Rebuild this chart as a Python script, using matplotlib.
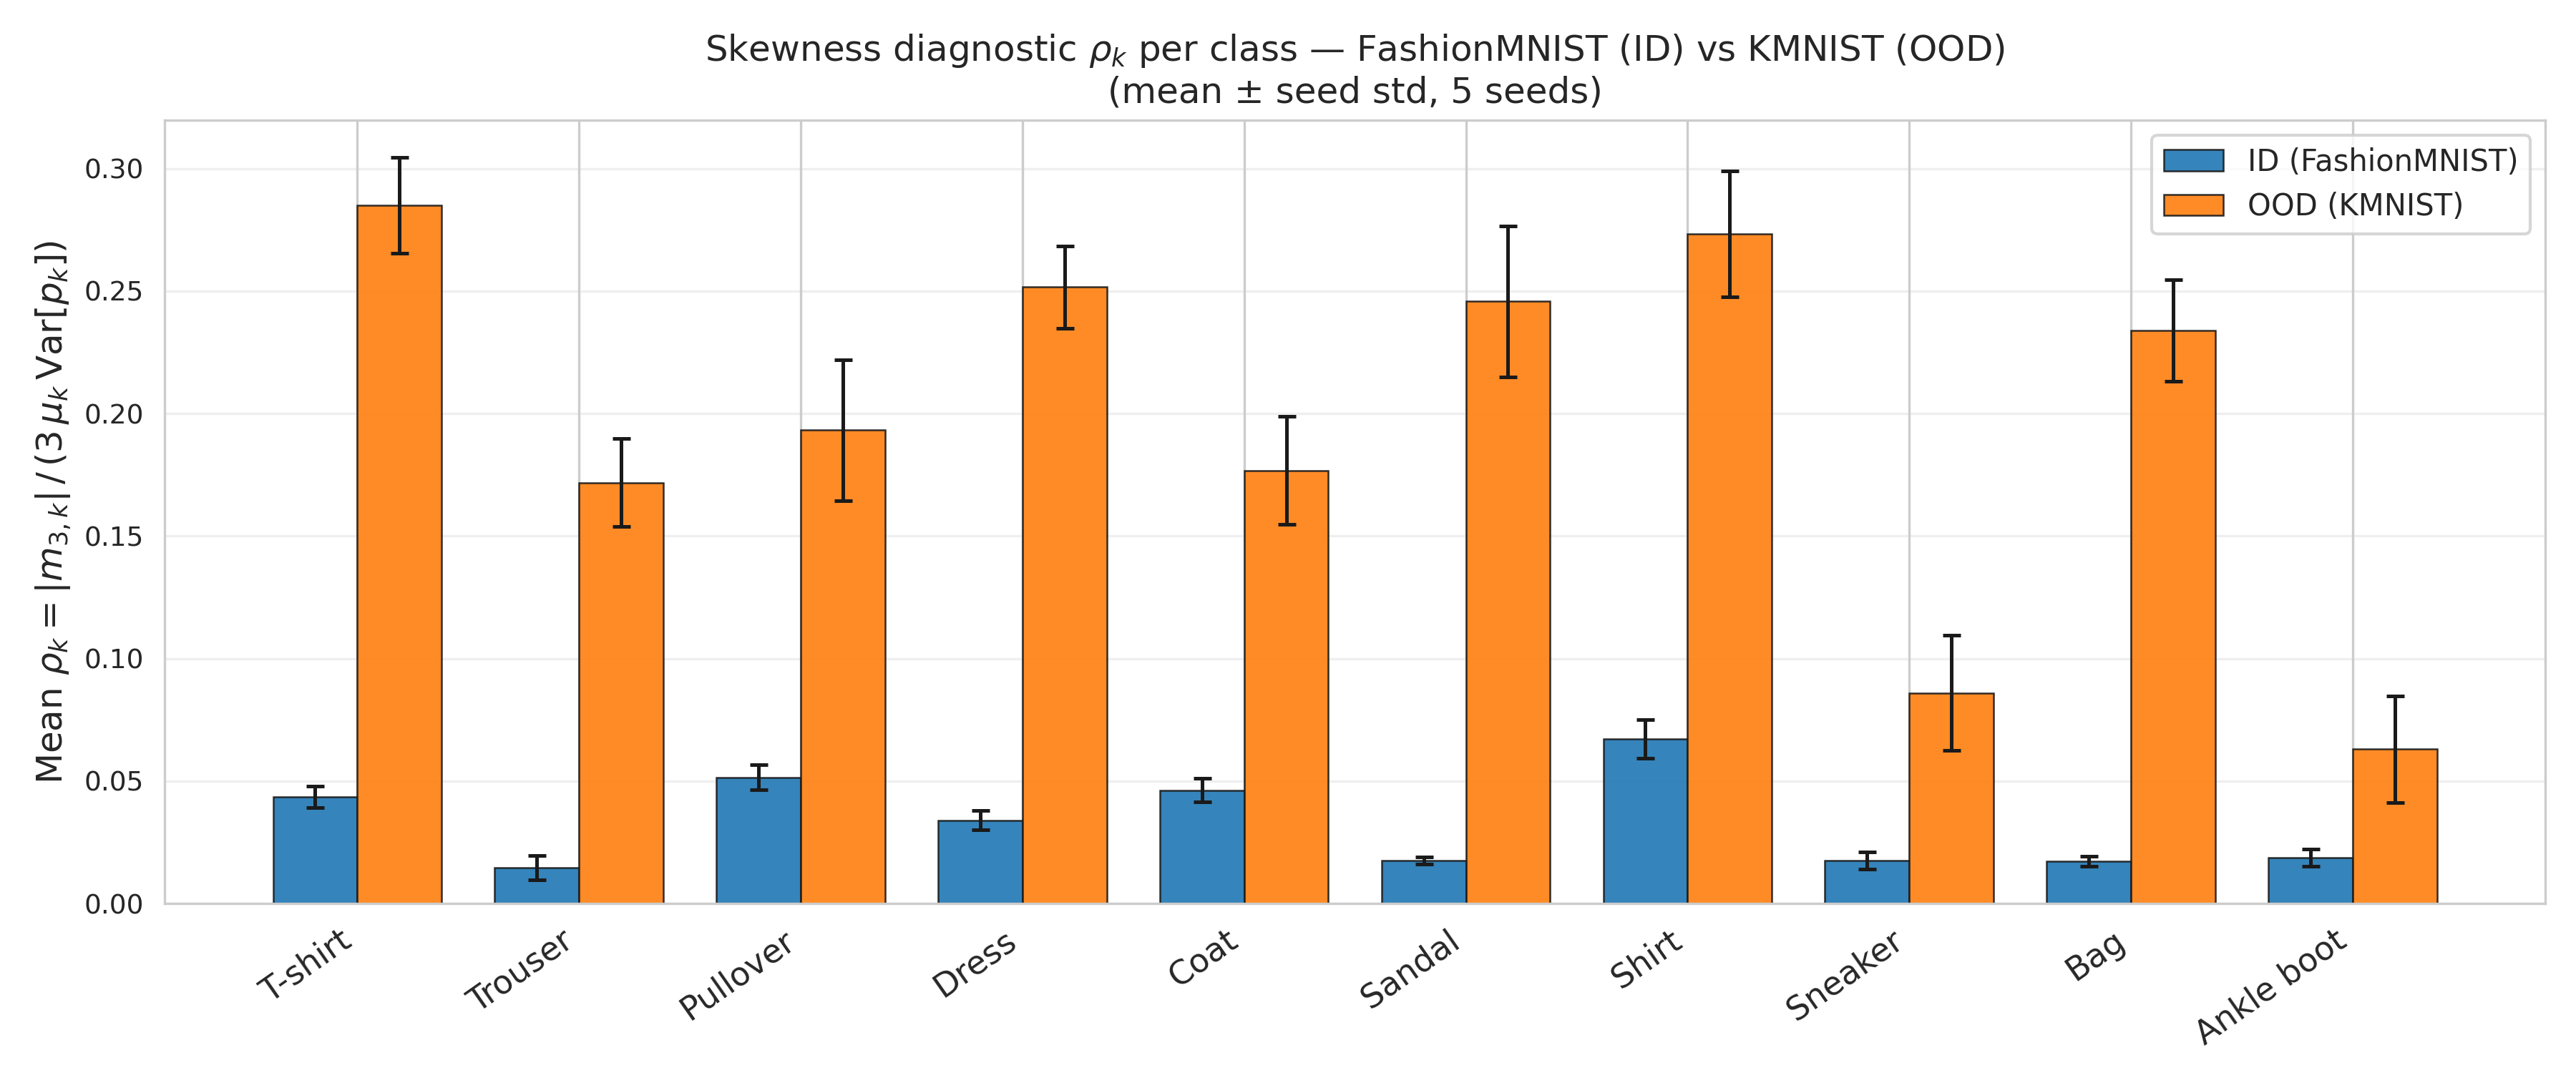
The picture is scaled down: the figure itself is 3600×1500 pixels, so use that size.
import numpy as np
import matplotlib
matplotlib.use("Agg")
import matplotlib.pyplot as plt
import seaborn as sns

classes = ["T-shirt", "Trouser", "Pullover", "Dress", "Coat",
           "Sandal", "Shirt", "Sneaker", "Bag", "Ankle boot"]
id_mean = [0.0435, 0.0145, 0.0515, 0.0340, 0.0462, 0.0175, 0.0672, 0.0175, 0.0172, 0.0187]
id_std = [0.0045, 0.0050, 0.0050, 0.0040, 0.0048, 0.0015, 0.0078, 0.0035, 0.0020, 0.0035]
ood_mean = [0.2850, 0.1718, 0.1932, 0.2516, 0.1767, 0.2458, 0.2733, 0.0859, 0.2338, 0.0630]
ood_std = [0.0195, 0.0180, 0.0288, 0.0168, 0.0220, 0.0308, 0.0258, 0.0235, 0.0207, 0.0217]

sns.set_style("whitegrid")
plt.rcParams['font.family'] = ['DejaVu Sans']

fig, ax = plt.subplots(figsize=(12, 5), dpi=300)
fig.subplots_adjust(left=0.064, right=0.988, top=0.888, bottom=0.158)

x = np.arange(len(classes))
w = 0.38
ekw = dict(elinewidth=1.2, capthick=1.2, ecolor="#1a1a1a")
ax.bar(x - w / 2, id_mean, w, yerr=id_std, capsize=3, color="#1f77b4", alpha=0.9,
       edgecolor="#1a1a1a", linewidth=0.6, label="ID (FashionMNIST)", error_kw=ekw)
ax.bar(x + w / 2, ood_mean, w, yerr=ood_std, capsize=3, color="#ff7f0e", alpha=0.9,
       edgecolor="#1a1a1a", linewidth=0.6, label="OOD (KMNIST)", error_kw=ekw)

ax.set_xticks(x)
ax.set_xticklabels(classes, rotation=35, ha="right", fontsize=11)
ax.tick_params(axis="y", labelsize=9)
ax.set_ylabel(r"Mean $\rho_k = |m_{3,k}|\,/\,(3\,\mu_k\,\mathrm{Var}[p_k])$", fontsize=12)
ax.set_title("Skewness diagnostic $\\rho_k$ per class — FashionMNIST (ID) vs KMNIST (OOD)\n"
             "(mean ± seed std, 5 seeds)", fontsize=12)
ax.grid(axis="y", alpha=0.3)
ax.legend(loc="upper right", fontsize=10)

fig.savefig("out.png", dpi=300)
